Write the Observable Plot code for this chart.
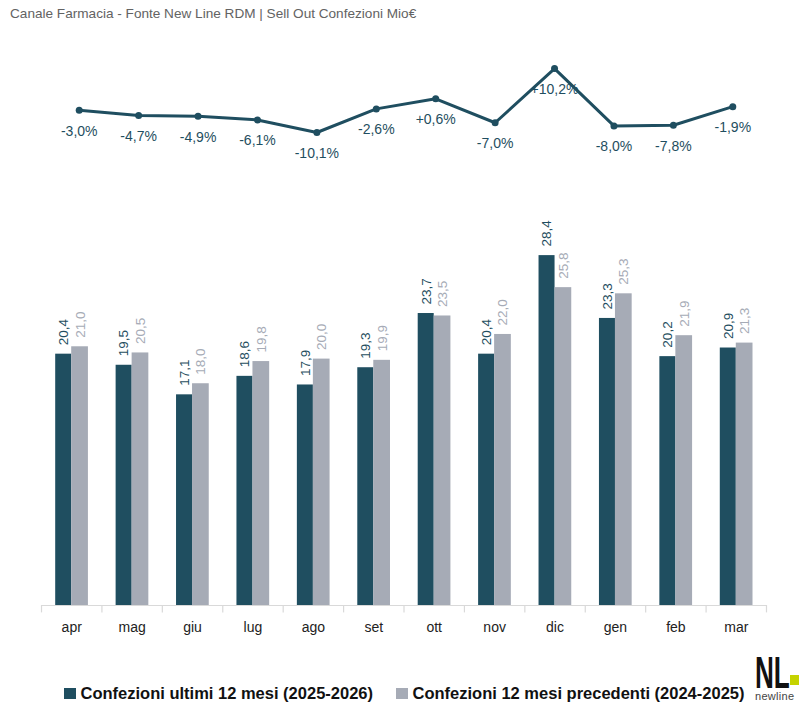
<!DOCTYPE html>
<html><head><meta charset="utf-8">
<script src="https://cdn.jsdelivr.net/npm/d3@7"></script>
<script src="https://cdn.jsdelivr.net/npm/@observablehq/plot@0.6"></script>
<style>
body{margin:0;background:#fff;width:799px;height:721px;position:relative;overflow:hidden;font-family:"Liberation Sans",Arial,sans-serif}
#title{position:absolute;left:10px;top:6px;font-size:13.6px;color:#636363;white-space:nowrap}
#line,#bars{position:absolute;left:0}
#line{top:0}
#bars{top:160px}
#legend{position:absolute;top:684px;left:64px;font-weight:bold;font-size:16.5px;color:#111;white-space:nowrap;display:flex;align-items:center}
#legend span.sw{display:inline-block;width:11.5px;height:11.5px;margin-right:5px}
#legend span.item{display:inline-flex;align-items:center;margin-right:23px}
#logo{position:absolute;left:750px;top:648px}
</style></head>
<body>
<div id="title">Canale Farmacia - Fonte New Line RDM | Sell Out Confezioni Mio€</div>
<div id="line"></div>
<div id="bars"></div>
<div id="legend"></div>
<div id="logo"><svg width="49" height="62" viewBox="0 0 49 62">
  <text x="5" y="40" font-family="Liberation Sans, Arial, sans-serif" font-weight="bold" font-size="45" fill="#111" transform="translate(5,0) scale(0.58,1) translate(-5,0)">NL</text>
  <rect x="40" y="27" width="9" height="10" fill="#c5d300"></rect>
  <text x="5" y="52" font-family="Liberation Sans, Arial, sans-serif" font-size="11" fill="#444" letter-spacing="0.3">newline</text>
</svg></div>
<script>
const months = ["apr","mag","giu","lug","ago","set","ott","nov","dic","gen","feb","mar"];
const current = [20.4,19.5,17.1,18.6,17.9,19.3,23.7,20.4,28.4,23.3,20.2,20.9];
const previous = [21.0,20.5,18.0,19.8,20.0,19.9,23.5,22.0,25.8,25.3,21.9,21.3];
const pctChange = [-3.0,-4.7,-4.9,-6.1,-10.1,-2.6,0.6,-7.0,10.2,-8.0,-7.8,-1.9];
const seriesNames = ["Confezioni ultimi 12 mesi (2025-2026)","Confezioni 12 mesi precedenti (2024-2025)"];

const C1 = "#1f4e60", C2 = "#a6abb6";
const fmtPct = v => (v > 0 ? "+" : "") + v.toFixed(1).replace(".", ",") + "%";
const fmtNum = v => v.toFixed(1).replace(".", ",");

const lineData = months.map((m,i) => ({month:m, pct:pctChange[i]}));
const barData = months.map((m,i) => ({month:m, cur:current[i], prev:previous[i]}));

const linePlot = Plot.plot({
  width:799, height:160, marginLeft:49, marginRight:37, marginTop:62.4, marginBottom:22,
  style:{fontFamily:"Liberation Sans, Arial, sans-serif", background:"transparent"},
  x:{type:"point", domain:months, padding:0.5, round:false, axis:null},
  y:{domain:[-12,12], axis:null},
  marks:[
    Plot.line(lineData,{x:"month", y:"pct", stroke:C1, strokeWidth:3}),
    Plot.dot(lineData,{x:"month", y:"pct", r:3.5, fill:C1}),
    Plot.text(lineData,{x:"month", y:"pct", text:d=>fmtPct(d.pct), dy:21, fontSize:14, fill:C1})
  ]
});
document.getElementById("line").appendChild(linePlot);

const barPlot = Plot.plot({
  width:799, height:480, marginLeft:41, marginRight:33, marginTop:75.4, marginBottom:35,
  style:{fontFamily:"Liberation Sans, Arial, sans-serif", background:"transparent"},
  x:{type:"band", domain:months, padding:0, round:false, label:null},
  y:{domain:[0,30], axis:null},
  marks:[
    Plot.barY(barData,{x:"month", y:"cur", fill:C1, insetLeft:14.2, insetRight:30.2}),
    Plot.barY(barData,{x:"month", y:"prev", fill:C2, insetLeft:30.2, insetRight:13.5}),
    Plot.text(barData,{x:"month", y:"cur", text:d=>fmtNum(d.cur), rotate:-90, textAnchor:"start", dx:-8, dy:-9, fontSize:13.5, fill:C1}),
    Plot.text(barData,{x:"month", y:"prev", text:d=>fmtNum(d.prev), rotate:-90, textAnchor:"start", dx:8.5, dy:-9, fontSize:13.5, fill:C2}),
    Plot.ruleY([0],{stroke:"#d9d9d9", strokeWidth:1.2}),
    Plot.ruleX(months,{x:d=>d, y1:0, y2:-0.6, dx:-30.2, stroke:"#d9d9d9", strokeWidth:1.2}),
    Plot.ruleX(["mar"],{x:d=>d, y1:0, y2:-0.6, dx:30.2, stroke:"#d9d9d9", strokeWidth:1.2}),
    Plot.axisX({tickSize:0, tickPadding:17, fontSize:14, color:"#222", label:null})
  ]
});
document.getElementById("bars").appendChild(barPlot);

const leg = document.getElementById("legend");
[[seriesNames[0],C1],[seriesNames[1],C2]].forEach(([n,c]) => {
  const it = document.createElement("span"); it.className = "item";
  const sw = document.createElement("span"); sw.className = "sw"; sw.style.background = c;
  it.appendChild(sw); it.appendChild(document.createTextNode(n)); leg.appendChild(it);
});
</script>
</body></html>
